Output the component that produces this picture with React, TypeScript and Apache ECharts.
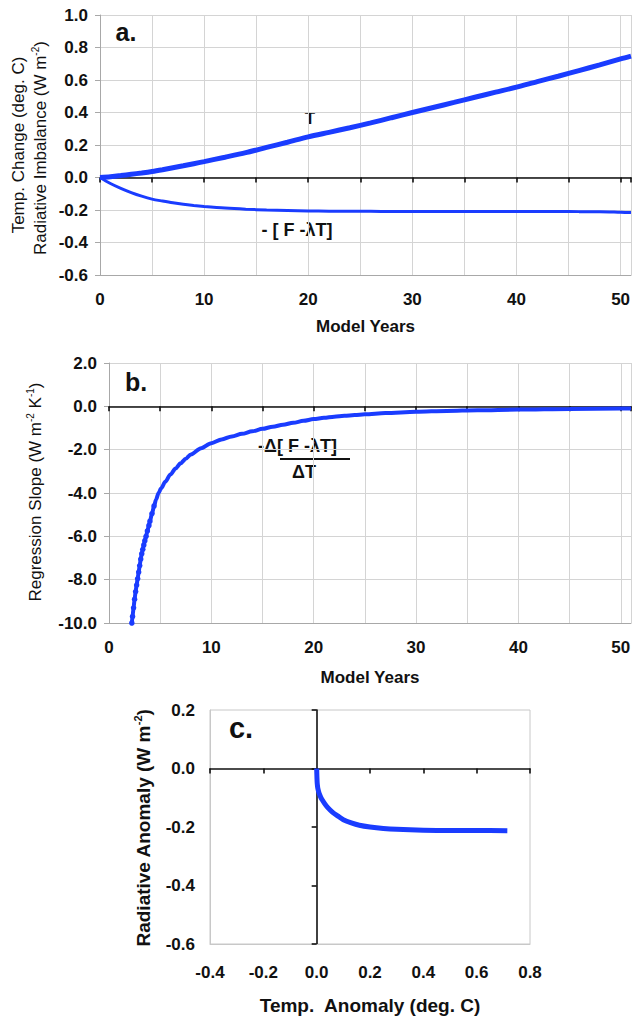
import React, { useEffect, useRef } from "react";
import * as echarts from "echarts";

const FONT = '"Liberation Sans", Arial, Helvetica, sans-serif';
const BLUE = "#1a3cff";
const GRID_GREY = "#d4d4d4";
const AXIS_GREY = "#a8a8a8";
const INK = "#111111";

// Panel a: model years, temperature change and radiative imbalance
const modelYears = [0, 1, 2, 3, 4, 5, 6, 7, 8, 9, 10, 12, 14, 16, 18, 20, 22, 24, 26, 28, 30, 32, 34, 36, 38, 40, 42, 44, 46, 48, 50, 51];
const tempChange = [0, 0.005, 0.012, 0.02, 0.028, 0.037, 0.048, 0.06, 0.072, 0.085, 0.098, 0.125, 0.153, 0.185, 0.217, 0.25, 0.278, 0.306, 0.336, 0.368, 0.4, 0.431, 0.462, 0.494, 0.525, 0.556, 0.59, 0.623, 0.658, 0.693, 0.73, 0.747];
const radImbalance = [0, -0.037, -0.067, -0.093, -0.115, -0.133, -0.145, -0.156, -0.165, -0.172, -0.178, -0.188, -0.195, -0.2, -0.203, -0.206, -0.207, -0.208, -0.208, -0.209, -0.209, -0.209, -0.209, -0.209, -0.209, -0.209, -0.209, -0.209, -0.21, -0.21, -0.214, -0.216];

// Panel b: regression slope against model year
const slopeYears = [2.23, 2.3, 2.4, 2.5, 2.6, 2.7, 2.8, 2.9, 3.0, 3.1, 3.2, 3.3, 3.4, 3.5, 3.62, 3.75, 3.9, 4.0, 4.2, 4.4, 4.6, 4.84, 5.1, 5.5, 6, 6.5, 7, 7.5, 8, 9, 10, 11, 12, 13, 14, 15, 16, 17, 18, 19, 20, 21, 22, 23, 24, 25, 27, 30, 33, 36, 40, 45, 50, 51];
const regressionSlope = [-10, -9.7, -9.3, -8.9, -8.55, -8.25, -7.95, -7.65, -7.35, -7.05, -6.8, -6.6, -6.4, -6.2, -6.0, -5.75, -5.5, -5.3, -4.95, -4.6, -4.3, -4.0, -3.78, -3.48, -3.15, -2.87, -2.63, -2.42, -2.22, -1.93, -1.7, -1.53, -1.39, -1.27, -1.15, -1.04, -0.94, -0.85, -0.76, -0.67, -0.59, -0.53, -0.48, -0.44, -0.4, -0.37, -0.31, -0.25, -0.21, -0.18, -0.15, -0.12, -0.1, -0.1];

// Panel c: radiative anomaly against temperature anomaly
const tempAnomaly = [0, 0.001, 0.002, 0.004, 0.007, 0.01, 0.015, 0.02, 0.03, 0.04, 0.06, 0.08, 0.1, 0.13, 0.16, 0.2, 0.25, 0.3, 0.4, 0.5, 0.6, 0.715];
const radAnomaly = [0, -0.03, -0.05, -0.066, -0.078, -0.087, -0.098, -0.106, -0.12, -0.132, -0.15, -0.163, -0.175, -0.186, -0.194, -0.2, -0.205, -0.208, -0.211, -0.212, -0.212, -0.213];

const zip = (xs: number[], ys: number[]) => xs.map((x, i) => [x, ys[i]]);
const fixed1 = (v: number) => (Math.abs(v) < 1e-9 ? 0 : v).toFixed(1);
const tens = (v: number) => (Math.abs(v % 10) < 1e-9 ? String(v) : "");

const tickLabel = { fontFamily: FONT, fontWeight: "bold" as const, fontSize: 17, color: INK };

function yearAxis(gridIndex: number, nameGap: number) {
  return {
    type: "value",
    gridIndex,
    min: 0,
    max: 51,
    interval: 5,
    position: "bottom",
    name: "Model Years",
    nameLocation: "middle",
    nameGap,
    nameTextStyle: { fontFamily: FONT, fontWeight: "bold", fontSize: 17, color: INK },
    axisLine: { onZero: false, lineStyle: { color: AXIS_GREY, width: 1 } },
    axisTick: { show: false },
    axisLabel: { ...tickLabel, margin: 16, formatter: tens },
    splitLine: { show: true, lineStyle: { color: GRID_GREY, width: 1 } },
  };
}

function zeroLine(gridIndex: number, min: number, max: number, interval: number, position: string) {
  return {
    type: "value",
    gridIndex,
    min,
    max,
    interval,
    position,
    axisLine: { show: true, onZero: true, lineStyle: { color: INK, width: 1.6 } },
    axisTick: { show: true, length: 5, lineStyle: { color: INK, width: 1.6 } },
    axisLabel: { show: false },
    splitLine: { show: false },
  };
}

function superTitle(x: number, y: number, parts: [string, boolean][], size: number, weight: string) {
  const text = parts.map(([t, sup]) => (sup ? `{s|${t}}` : `{t|${t}}`)).join("");
  return {
    type: "text",
    x,
    y,
    rotation: Math.PI / 2,
    style: {
      text,
      align: "center",
      verticalAlign: "middle",
      fill: INK,
      rich: {
        t: { fontFamily: FONT, fontSize: size, fontWeight: weight, fill: INK, lineHeight: size + 2 },
        s: { fontFamily: FONT, fontSize: Math.round(size * 0.6), fontWeight: weight, fill: INK, verticalAlign: "top", lineHeight: size + 2 },
      },
    },
  };
}

function plainText(x: number, y: number, text: string, size: number, align = "center") {
  return {
    type: "text",
    x,
    y,
    style: { text, align, verticalAlign: "middle", fill: INK, fontFamily: FONT, fontWeight: "bold", fontSize: size },
  };
}

export default function App() {
  const ref = useRef<HTMLDivElement>(null);

  useEffect(() => {
    if (!ref.current) return;
    const chart = echarts.init(ref.current, undefined, { renderer: "svg" });

    const option = {
      animation: false,
      backgroundColor: "#ffffff",
      grid: [
        { left: 100, top: 15, width: 535, height: 260 },
        { left: 109, top: 363, width: 526, height: 260 },
        { left: 210, top: 710, width: 320, height: 234, show: true, borderColor: "#c8c8c8", borderWidth: 1 },
      ],
      xAxis: [
        yearAxis(0, 43),
        zeroLine(0, 0, 51, 5, "bottom"),
        yearAxis(1, 46),
        zeroLine(1, 0, 51, 5, "bottom"),
        {
          type: "value",
          gridIndex: 2,
          min: -0.4,
          max: 0.8,
          interval: 0.2,
          position: "bottom",
          name: "Temp.  Anomaly (deg. C)",
          nameLocation: "middle",
          nameGap: 52,
          nameTextStyle: { fontFamily: FONT, fontWeight: "bold", fontSize: 19, color: INK },
          axisLine: { onZero: false, lineStyle: { color: "#c8c8c8" } },
          axisTick: { show: false },
          axisLabel: { ...tickLabel, margin: 20, formatter: fixed1 },
          splitLine: { show: false },
        },
        zeroLine(2, -0.4, 0.8, 0.2, "bottom"),
      ],
      yAxis: [
        {
          type: "value",
          gridIndex: 0,
          min: -0.6,
          max: 1.0,
          interval: 0.2,
          axisLine: { show: true, onZero: false, lineStyle: { color: AXIS_GREY } },
          axisTick: { show: true, length: 5, lineStyle: { color: AXIS_GREY } },
          axisLabel: { ...tickLabel, margin: 12, formatter: fixed1 },
          splitLine: { show: true, lineStyle: { color: GRID_GREY } },
        },
        {
          type: "value",
          gridIndex: 1,
          min: -10,
          max: 2,
          interval: 2,
          axisLine: { show: true, onZero: false, lineStyle: { color: AXIS_GREY } },
          axisTick: { show: true, length: 5, lineStyle: { color: AXIS_GREY } },
          axisLabel: { ...tickLabel, margin: 12, formatter: fixed1 },
          splitLine: { show: true, lineStyle: { color: GRID_GREY } },
        },
        {
          type: "value",
          gridIndex: 2,
          min: -0.6,
          max: 0.2,
          interval: 0.2,
          axisLine: { show: true, onZero: false, lineStyle: { color: "#c8c8c8" } },
          axisTick: { show: false },
          axisLabel: { ...tickLabel, margin: 15, formatter: fixed1 },
          splitLine: { show: false },
        },
        zeroLine(2, -0.6, 0.2, 0.2, "left"),
      ],
      series: [
        {
          name: "T",
          type: "line",
          xAxisIndex: 0,
          yAxisIndex: 0,
          data: zip(modelYears, tempChange),
          smooth: 0.3,
          showSymbol: false,
          lineStyle: { color: BLUE, width: 5 },
          itemStyle: { color: BLUE },
        },
        {
          name: "- [ F -λT]",
          type: "line",
          xAxisIndex: 0,
          yAxisIndex: 0,
          data: zip(modelYears, radImbalance),
          smooth: 0.3,
          showSymbol: false,
          lineStyle: { color: BLUE, width: 3 },
          itemStyle: { color: BLUE },
        },
        {
          name: "Regression slope",
          type: "line",
          xAxisIndex: 2,
          yAxisIndex: 1,
          data: zip(slopeYears, regressionSlope),
          smooth: 0.3,
          smoothMonotone: "x",
          showSymbol: true,
          symbol: "circle",
          // beads are only distinguishable along the steep early part
          symbolSize: (v: number[]) => (v[0] < 4.5 ? 5.5 : 0),
          lineStyle: { color: BLUE, width: 4 },
          itemStyle: { color: BLUE },
        },
        {
          name: "Radiative anomaly",
          type: "line",
          xAxisIndex: 4,
          yAxisIndex: 2,
          data: zip(tempAnomaly, radAnomaly),
          smooth: 0.3,
          showSymbol: false,
          lineStyle: { color: BLUE, width: 5 },
          itemStyle: { color: BLUE },
        },
      ],
      graphic: [
        // axis titles (rotated)
        superTitle(18, 145, [["Temp. Change (deg. C)", false]], 17, "normal"),
        superTitle(40, 148, [["Radiative Imbalance (W m", false], ["-2", true], [")", false]], 17, "normal"),
        superTitle(35, 492, [["Regression Slope (W m", false], ["-2", true], [" K", false], ["-1", true], [")", false]], 17, "normal"),
        superTitle(143, 828, [["Radiative Anomaly (W m", false], ["-2", true], [")", false]], 19, "bold"),
        // panel letters
        plainText(126, 32, "a.", 25),
        plainText(136, 382, "b.", 25),
        plainText(241, 728, "c.", 29),
        // curve labels
        plainText(310, 118, "T", 17),
        plainText(297, 230, "- [ F -λT]", 18),
        plainText(258, 446, "-Δ[ F -λT]", 18, "left"),
        {
          type: "line",
          shape: { x1: 280, y1: 459, x2: 350, y2: 459 },
          style: { stroke: INK, lineWidth: 2 },
        },
        plainText(304, 472, "ΔT", 18),
      ],
    };

    chart.setOption(option as any);
    return () => chart.dispose();
  }, []);

  return (
    <div
      ref={ref}
      style={{ position: "absolute", left: 0, top: 0, width: 634, height: 1019 }}
    />
  );
}
